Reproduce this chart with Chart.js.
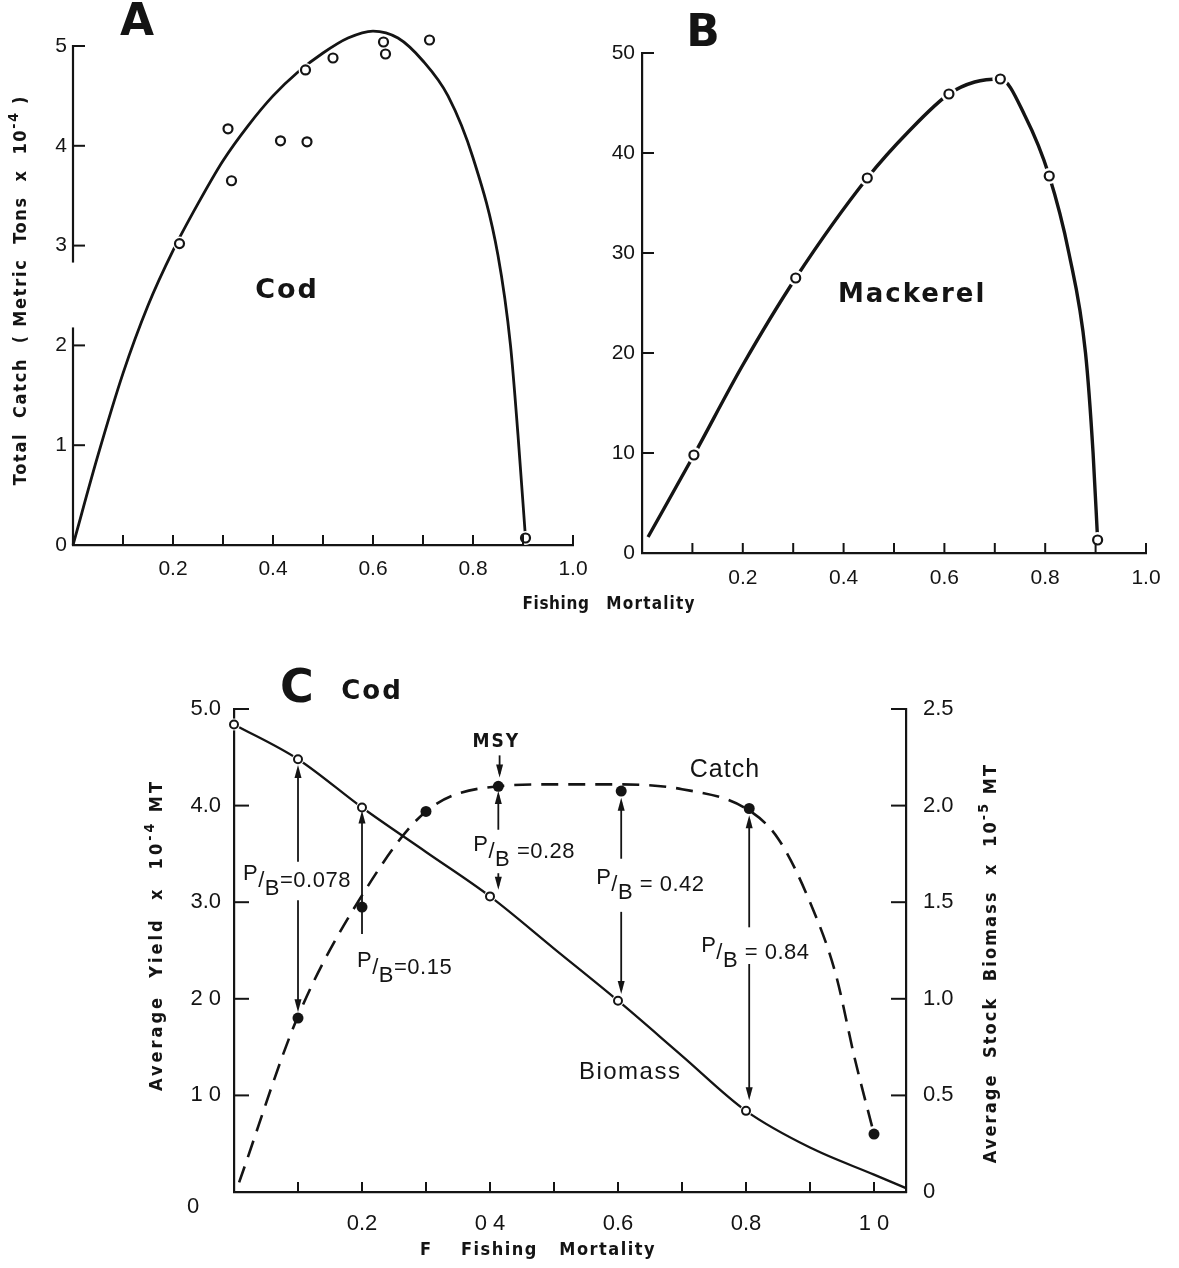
<!DOCTYPE html>
<html>
<head>
<meta charset="utf-8">
<title>Catch, yield and biomass against fishing mortality</title>
<script src="https://cdn.jsdelivr.net/npm/chart.js@4.4.1/dist/chart.umd.min.js"></script>
<style>
  html, body { margin: 0; padding: 0; background: #fff; }
  #page { position: relative; width: 1179px; height: 1268px; overflow: hidden; background: #fff; }
  canvas { position: absolute; }
</style>
</head>
<body>
<div id="page">
  <canvas id="chartA" width="600" height="625" style="left:0;top:0"></canvas>
  <canvas id="chartB" width="579" height="625" style="left:600px;top:0"></canvas>
  <canvas id="chartC" width="1179" height="628" style="left:0;top:640px"></canvas>
</div>
<script>
// ---------- A: cod, total catch (metric tons x 10^-4) vs fishing mortality ----------
const codF          = [0.213, 0.31, 0.317, 0.415, 0.465, 0.468, 0.52, 0.619, 0.621, 0.625, 0.713, 0.905];
const codCatch      = [3.02, 4.17, 3.65, 4.05, 4.76, 4.04, 4.88, 5.14, 5.04, 4.92, 5.06, 0.07];
const codCurveF     = [0, 0.05, 0.1, 0.15, 0.2, 0.25, 0.3, 0.35, 0.4, 0.45, 0.5, 0.55, 0.6, 0.65, 0.7, 0.75, 0.8, 0.85, 0.875, 0.89, 0.905];
const codCurveCatch = [0, 0.9, 1.72, 2.4, 2.95, 3.42, 3.85, 4.2, 4.5, 4.74, 4.93, 5.08, 5.15, 5.08, 4.85, 4.5, 3.88, 2.9, 2.0, 1.1, 0.07];
// visible stretches of the catch axis line
const codAxisRuns   = [[5, 2.83], [2.18, 0]];

// ---------- B: mackerel, total catch vs fishing mortality ----------
const mackF          = [0.103, 0.305, 0.447, 0.609, 0.711, 0.808, 0.904];
const mackCatch      = [9.8, 27.5, 37.5, 45.9, 47.4, 37.7, 1.3];
const mackCurveF     = [0.012, 0.103, 0.2, 0.305, 0.447, 0.53, 0.609, 0.66, 0.711, 0.76, 0.808, 0.847, 0.88, 0.895, 0.904];
const mackCurveCatch = [1.6, 9.8, 18.8, 27.5, 37.5, 42.2, 45.9, 47.1, 47.4, 43.7, 37.7, 30.0, 20.0, 10.0, 1.3];

// ---------- C: cod, average yield (x 10^-4 MT) and stock biomass (x 10^-5 MT) ----------
const yieldF          = [0.1, 0.2, 0.3, 0.413, 0.605, 0.805, 1.0];
const yieldCatch      = [1.8, 2.95, 3.94, 4.2, 4.15, 3.97, 0.6];
const yieldCurveF     = [0.008, 0.1, 0.2, 0.3, 0.413, 0.5, 0.6, 0.7, 0.8, 0.85, 0.9, 0.94, 0.97, 1.0];
const yieldCurveCatch = [0.1, 1.82, 3.07, 3.94, 4.2, 4.22, 4.22, 4.17, 3.97, 3.66, 3.0, 2.26, 1.38, 0.6];
const biomassF        = [0, 0.1, 0.2, 0.4, 0.6, 0.8];
const biomass         = [2.42, 2.24, 1.99, 1.53, 0.99, 0.42];
const biomassCurveF   = [0, 0.1, 0.2, 0.3, 0.4, 0.5, 0.6, 0.7, 0.8, 0.9, 1.0, 1.05];
const biomassCurve    = [2.42, 2.24, 1.99, 1.76, 1.53, 1.26, 0.99, 0.705, 0.42, 0.23, 0.09, 0.02];

// production / biomass arrows (values on the yield axis)
const pbF         = [0.1, 0.2, 0.413, 0.605, 0.805];
const pbUpTip     = [4.42, 3.95, 4.15, 4.08, 3.9];
const pbUpperEnd  = [3.42, 2.67, 3.75, 3.45, 2.74];
const pbLowerFrom = [3.02, null, 3.3, 2.9, 2.36];
const pbDownTip   = [1.86, null, 3.13, 2.05, 0.95];
const pbLabelY    = [3.22, 2.32, 3.52, 3.18, 2.47];
const pbLabels    = ['=0.078', '=0.15', ' =0.28', ' = 0.42', ' = 0.84'];
const msyF        = 0.415;
const msyArrow    = [4.52, 4.29];

// tick labels (the yield-axis zero is set apart at the corner)
const fTickVals    = [0.2, 0.4, 0.6, 0.8, 1.0];
const fLabelsAB    = ['0.2', '0.4', '0.6', '0.8', '1.0'];
const fLabelsC     = ['0.2', '0 4', '0.6', '0.8', '1 0'];
const yieldVals    = [1, 2, 3, 4, 5];
const yieldLabels  = ['1 0', '2 0', '3.0', '4.0', '5.0'];
const stockVals    = [0, 0.5, 1, 1.5, 2, 2.5];
const stockLabels  = ['0', '0.5', '1.0', '1.5', '2.0', '2.5'];

// ---------- drawing helpers ----------
const INK = '#141414';
const SANS = "'Liberation Sans', Arial, sans-serif";
const NARROW = "'Liberation Sans Narrow', 'DejaVu Sans Condensed', 'Liberation Sans', sans-serif";
const HEAVY = "'DejaVu Sans', 'Liberation Sans', sans-serif";

const pts = (xs, ys) => xs.map((x, i) => ({ x, y: ys[i] }));
const pick = (vals, labels, v) => {
  const i = vals.findIndex(t => Math.abs(t - v) < 1e-6);
  return i < 0 ? '' : labels[i];
};

function fontStr(o, scale) {
  return `${o.weight || 'normal'} ${Math.round((o.size || 16) * (scale || 1))}px ${o.family || SANS}`;
}
function drawRich(ctx, segs, x, y, o) {
  ctx.save();
  ctx.translate(x, y);
  if (o.rotate) ctx.rotate(o.rotate);
  ctx.fillStyle = o.color || INK;
  ctx.textBaseline = 'middle';
  ctx.textAlign = 'left';
  ctx.letterSpacing = (o.spacing || 0) + 'px';
  const ws = segs.map(s => { ctx.font = fontStr(o, s.scale); return ctx.measureText(s.t).width; });
  const total = ws.reduce((a, b) => a + b, 0);
  let cx = o.align === 'left' ? 0 : (o.align === 'right' ? -total : -total / 2);
  segs.forEach((s, i) => { ctx.font = fontStr(o, s.scale); ctx.fillText(s.t, cx, s.dy || 0); cx += ws[i]; });
  ctx.restore();
}

// tick marks drawn on the inner side of each axis, plus hand-drawn axis runs
const inwardTicks = {
  id: 'inwardTicks',
  afterDraw(chart, args, opts) {
    const ctx = chart.ctx, area = chart.chartArea;
    ctx.save();
    ctx.strokeStyle = INK;
    ctx.lineWidth = opts.width || 2;
    (opts.axes || []).forEach(a => {
      const s = chart.scales[a.id];
      s.ticks.forEach(t => {
        if (Math.abs(t.value) < 1e-9) return;
        const p = s.getPixelForValue(t.value);
        ctx.beginPath();
        if (s.isHorizontal()) { ctx.moveTo(p, area.bottom); ctx.lineTo(p, area.bottom - a.len); }
        else if (s.position === 'left') { ctx.moveTo(area.left, p); ctx.lineTo(area.left + a.len, p); }
        else { ctx.moveTo(area.right, p); ctx.lineTo(area.right - a.len, p); }
        ctx.stroke();
      });
    });
    if (opts.runs) {
      const s = chart.scales[opts.runs.id];
      ctx.lineWidth = 2.2;
      opts.runs.values.forEach(([a, b]) => {
        ctx.beginPath();
        ctx.moveTo(area.left, s.getPixelForValue(a) - (a === s.max ? 1 : 0));
        ctx.lineTo(area.left, s.getPixelForValue(b) + (b === s.min ? 1 : 0));
        ctx.stroke();
      });
    }
    ctx.restore();
  }
};

// free text: panel letters, species names, axis titles
const textLayer = {
  id: 'textLayer',
  afterDraw(chart, args, opts) {
    const ctx = chart.ctx;
    (opts.items || []).forEach(it => {
      let x = it.x, y = it.y;
      if (it.fx !== undefined) {
        x = chart.scales.x.getPixelForValue(it.fx);
        y = chart.scales[it.axis || 'y'].getPixelForValue(it.fy);
      }
      drawRich(ctx, it.segs || [{ t: it.text }], x, y, it);
    });
  }
};

function arrowHead(ctx, x, tip, dir) {
  // dir = -1 points up, +1 points down
  ctx.beginPath();
  ctx.moveTo(x, tip);
  ctx.lineTo(x - 3.5, tip - dir * 13);
  ctx.lineTo(x + 3.5, tip - dir * 13);
  ctx.closePath();
  ctx.fill();
}

// P/B arrows between the biomass and catch curves, plus the MSY pointer
const pbArrows = {
  id: 'pbArrows',
  afterDatasetsDraw(chart) {
    const { ctx, scales: { x, y } } = chart;
    ctx.save();
    ctx.strokeStyle = INK;
    ctx.fillStyle = INK;
    ctx.lineWidth = 1.8;
    const offsets = [-55, -5, -25, -25, -48];
    pbF.forEach((f, i) => {
      const px = x.getPixelForValue(f);
      const top = y.getPixelForValue(pbUpTip[i]);
      ctx.beginPath();
      ctx.moveTo(px, top + 4);
      ctx.lineTo(px, y.getPixelForValue(pbUpperEnd[i]));
      ctx.stroke();
      arrowHead(ctx, px, top, -1);
      if (pbLowerFrom[i] !== null) {
        const tip = y.getPixelForValue(pbDownTip[i]);
        ctx.beginPath();
        ctx.moveTo(px, y.getPixelForValue(pbLowerFrom[i]));
        ctx.lineTo(px, tip - 4);
        ctx.stroke();
        arrowHead(ctx, px, tip, 1);
      }
      drawRich(ctx, [{ t: 'P', dy: -7 }, { t: '/', dy: 0 }, { t: 'B', dy: 8 }, { t: pbLabels[i] }],
        px + offsets[i], y.getPixelForValue(pbLabelY[i]), { size: 22, spacing: 0.5, align: 'left' });
    });
    const mx = x.getPixelForValue(msyF);
    const mTip = y.getPixelForValue(msyArrow[1]);
    ctx.beginPath();
    ctx.moveTo(mx, y.getPixelForValue(msyArrow[0]));
    ctx.lineTo(mx, mTip - 4);
    ctx.stroke();
    arrowHead(ctx, mx, mTip, 1);
    ctx.restore();
  }
};

function linScale(opts) {
  return {
    type: 'linear',
    min: opts.min, max: opts.max,
    position: opts.position,
    grid: { display: false, drawTicks: false },
    border: { display: opts.border !== false, color: INK, width: 2.2 },
    ticks: {
      stepSize: opts.step, autoSkip: false, maxRotation: 0, includeBounds: false,
      padding: opts.pad, color: INK, font: { family: SANS, size: opts.font || 21 },
      callback: opts.cb
    },
    afterFit: opts.fit
  };
}

const common = { responsive: false, animation: false, events: [], devicePixelRatio: 1 };

const openCircle = (data, r) => ({
  data, showLine: false, pointRadius: r, pointBorderWidth: 2.2,
  pointBackgroundColor: '#fff', pointBorderColor: INK, clip: false, order: 0
});
const halo = (data, r) => ({
  data, showLine: false, pointRadius: r, pointBorderWidth: 0,
  pointBackgroundColor: '#fff', pointBorderColor: 'rgba(0,0,0,0)', clip: false, order: 1
});
const curve = (data, w, extra) => Object.assign({
  data, pointRadius: 0, borderColor: INK, borderWidth: w, fill: false,
  cubicInterpolationMode: 'monotone', clip: false, order: 2
}, extra || {});

// ---------- chart A ----------
new Chart(document.getElementById('chartA'), {
  type: 'line',
  data: { datasets: [
    openCircle(pts(codF, codCatch), 4.5),
    halo(pts(codF, codCatch), 7),
    curve(pts(codCurveF, codCurveCatch), 2.8)
  ]},
  options: Object.assign({}, common, {
    layout: { padding: { top: 46, right: 27, left: 0, bottom: 0 } },
    plugins: {
      legend: { display: false }, tooltip: { enabled: false },
      inwardTicks: { axes: [{ id: 'x', len: 10 }, { id: 'y', len: 12 }], runs: { id: 'y', values: codAxisRuns } },
      textLayer: { items: [
        { text: 'A', x: 137, y: 24, size: 44, weight: 'bold', family: HEAVY },
        { text: 'Cod', fx: 0.428, fy: 2.55, size: 27, weight: 'bold', family: HEAVY, spacing: 2 },
        { segs: [{ t: 'Total  Catch  ( Metric  Tons  x  10' }, { t: '-4', dy: -7, scale: 0.75 }, { t: ' )' }],
          x: 21, y: 290, rotate: -Math.PI / 2, size: 18, weight: 'bold', family: NARROW, spacing: 1.7 },
        { text: 'Fishing', x: 556, y: 605, size: 17, weight: 'bold', family: NARROW, spacing: 0.6 }
      ]}
    },
    scales: {
      x: linScale({ min: 0, max: 1, step: 0.1, pad: 12, cb: v => pick(fTickVals, fLabelsAB, v), fit: s => { s.height = 80; } }),
      y: linScale({ min: 0, max: 5, step: 1, pad: 6, position: 'left', border: false, cb: v => String(v), fit: s => { s.width = 73; } })
    }
  }),
  plugins: [inwardTicks, textLayer]
});

// ---------- chart B ----------
new Chart(document.getElementById('chartB'), {
  type: 'line',
  data: { datasets: [
    openCircle(pts(mackF, mackCatch), 4.5),
    halo(pts(mackF, mackCatch), 8),
    curve(pts(mackCurveF, mackCurveCatch), 3.4)
  ]},
  options: Object.assign({}, common, {
    layout: { padding: { top: 53, right: 33, left: 0, bottom: 0 } },
    plugins: {
      legend: { display: false }, tooltip: { enabled: false },
      inwardTicks: { axes: [{ id: 'x', len: 10 }, { id: 'y', len: 12 }] },
      textLayer: { items: [
        { text: 'B', x: 103, y: 35, size: 44, weight: 'bold', family: HEAVY },
        { text: 'Mackerel', fx: 0.536, fy: 25.8, size: 26, weight: 'bold', family: HEAVY, spacing: 2 },
        { text: 'Mortality', x: 51, y: 605, size: 17, weight: 'bold', family: NARROW, spacing: 1.2 }
      ]}
    },
    scales: {
      x: linScale({ min: 0, max: 1, step: 0.1, pad: 13, cb: v => pick(fTickVals, fLabelsAB, v), fit: s => { s.height = 72; } }),
      y: linScale({ min: 0, max: 50, step: 10, pad: 7, position: 'left', cb: v => String(v), fit: s => { s.width = 42; } })
    }
  }),
  plugins: [inwardTicks, textLayer]
});

// ---------- chart C ----------
new Chart(document.getElementById('chartC'), {
  type: 'line',
  data: { datasets: [
    { data: pts(yieldF, yieldCatch), yAxisID: 'y', showLine: false, pointRadius: 5.5, pointBorderWidth: 0,
      pointBackgroundColor: INK, clip: false, order: 0 },
    Object.assign(openCircle(pts(biomassF, biomass), 4), { yAxisID: 'y2', pointBorderWidth: 2 }),
    Object.assign(halo(pts(biomassF, biomass), 6), { yAxisID: 'y2' }),
    curve(pts(biomassCurveF, biomassCurve), 2.3, { yAxisID: 'y2' }),
    curve(pts(yieldCurveF, yieldCurveCatch), 2.6, { yAxisID: 'y', borderDash: [17, 10] })
  ]},
  options: Object.assign({}, common, {
    layout: { padding: { top: 69, right: 0, left: 0, bottom: 0 } },
    plugins: {
      legend: { display: false }, tooltip: { enabled: false },
      inwardTicks: { axes: [{ id: 'x', len: 10 }, { id: 'y', len: 15 }, { id: 'y2', len: 15 }] },
      textLayer: { items: [
        { text: 'C', x: 297, y: 50, size: 46, weight: 'bold', family: HEAVY },
        { text: 'Cod', x: 372, y: 52, size: 26, weight: 'bold', family: HEAVY, spacing: 2 },
        { text: '0', x: 193, y: 567, size: 22 },
        { text: 'MSY', fx: 0.41, fy: 4.66, size: 19, weight: 'bold', family: NARROW, spacing: 2 },
        { text: 'Catch', fx: 0.767, fy: 4.37, size: 25, spacing: 1 },
        { text: 'Biomass', fx: 0.619, fy: 1.24, size: 24, spacing: 1.5 },
        { segs: [{ t: 'Average  Yield  x  10' }, { t: '-4', dy: -7, scale: 0.75 }, { t: ' MT' }],
          x: 157, y: 295, rotate: -Math.PI / 2, size: 18, weight: 'bold', family: NARROW, spacing: 3 },
        { segs: [{ t: 'Average  Stock  Biomass  x  10' }, { t: '-5', dy: -7, scale: 0.75 }, { t: ' MT' }],
          x: 991, y: 323, rotate: -Math.PI / 2, size: 18, weight: 'bold', family: NARROW, spacing: 2.1 },
        { text: 'F    Fishing   Mortality', x: 538, y: 610, size: 18, weight: 'bold', family: NARROW, spacing: 1.5 }
      ]}
    },
    scales: {
      x: linScale({ min: 0, max: 1.05, step: 0.1, pad: 19, font: 22, cb: v => pick(fTickVals, fLabelsC, v), fit: s => { s.height = 76; } }),
      y: linScale({ min: 0, max: 5, step: 1, pad: 13, font: 22, position: 'left', cb: v => pick(yieldVals, yieldLabels, v), fit: s => { s.width = 234; } }),
      y2: linScale({ min: 0, max: 2.5, step: 0.5, pad: 17, font: 22, position: 'right', cb: v => pick(stockVals, stockLabels, v), fit: s => { s.width = 273; } })
    }
  }),
  plugins: [inwardTicks, pbArrows, textLayer]
});
</script>
</body>
</html>
